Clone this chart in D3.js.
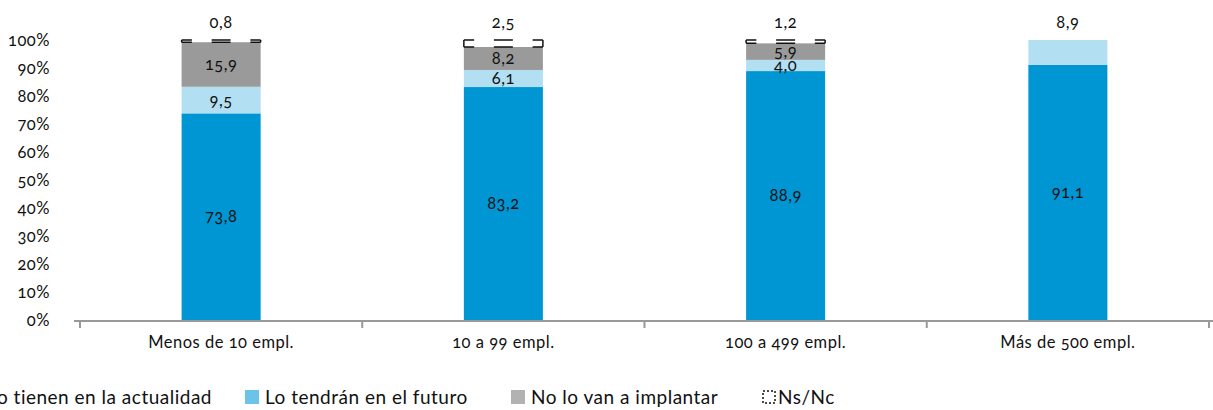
<!DOCTYPE html>
<html>
<head>
<meta charset="utf-8">
<script src="https://cdn.jsdelivr.net/npm/d3@7"></script>
<style>
  html, body { margin: 0; padding: 0; background: #fff; }
  svg text { font-family: Lato, "Open Sans", sans-serif; font-variant-numeric: oldstyle-nums; fill: #111; letter-spacing: 0.5px; }
</style>
</head>
<body>
<div id="chart"></div>
<script>
// datos del gráfico
const categories = ["Menos de 10 empl.", "10 a 99 empl.", "100 a 499 empl.", "Más de 500 empl."];
const seriesNames = ["Lo tienen en la actualidad", "Lo tendrán en el futuro", "No lo van a implantar", "Ns/Nc"];
const actualidad = [73.8, 83.2, 88.9, 91.1];
const futuro = [9.5, 6.1, 4.0, 8.9];
const noImplantar = [15.9, 8.2, 5.9, 0];
const nsnc = [0.8, 2.5, 1.2, 0];
const yTicks = [0, 10, 20, 30, 40, 50, 60, 70, 80, 90, 100];

drawChart();

function drawChart() {
  const width = 1213, height = 410;
  const svg = d3.select("#chart").append("svg")
    .attr("width", width)
    .attr("height", height);

  const barColors = ["#0096d4", "#b2dff2", "#9a9a9a", "none"];
  const legendColors = ["#0096d4", "#6cc3e8", "#b2b2b2", "none"];

  const rows = categories.map((c, i) => ({
    cat: c, s0: actualidad[i], s1: futuro[i], s2: noImplantar[i], s3: nsnc[i]
  }));
  const keys = ["s0", "s1", "s2", "s3"];
  const stacked = d3.stack().keys(keys)(rows);

  const x = d3.scaleBand().domain(categories).range([80, 1209]).paddingInner(0.72).paddingOuter(0.36);
  const xTicks = d3.scaleBand().domain(categories).range([80, 1209]);
  const y = d3.scaleLinear().domain([0, 100]).range([320, 40]);

  const fmt = d3.formatLocale({ decimal: ",", thousands: ".", grouping: [3], currency: ["", "€"] }).format(".1f");

  // eje Y (solo etiquetas)
  svg.append("g").selectAll("text")
    .data(yTicks)
    .join("text")
    .attr("x", 50)
    .attr("y", d => y(d))
    .attr("dy", "0.35em")
    .attr("text-anchor", "end")
    .style("font-size", "16.5px")
    .text(d => d + "%");

  // barras
  stacked.forEach((layer, k) => {
    const g = svg.append("g");
    if (k < 3) {
      g.selectAll("rect")
        .data(layer.filter(d => d[1] > d[0]))
        .join("rect")
        .attr("x", d => x(d.data.cat))
        .attr("width", x.bandwidth())
        .attr("y", d => y(d[1]))
        .attr("height", d => y(d[0]) - y(d[1]))
        .attr("fill", barColors[k]);
    } else {
      // Ns/Nc: caja discontinua
      layer.filter(d => d[1] > d[0]).forEach(d => {
        const x0 = x(d.data.cat), w = x.bandwidth();
        const t = y(d[1]), b = y(d[0]);
        const dash = [w * 0.13, w * 0.25, w * 0.24, w * 0.25, w * 0.13].join(",");
        [t, b].forEach(yy => {
          g.append("line")
            .attr("x1", x0).attr("x2", x0 + w)
            .attr("y1", yy).attr("y2", yy)
            .attr("stroke", "#111").attr("stroke-width", 1.5)
            .attr("stroke-dasharray", dash);
        });
        [x0, x0 + w].forEach(xx => {
          g.append("line")
            .attr("x1", xx).attr("x2", xx)
            .attr("y1", t).attr("y2", b)
            .attr("stroke", "#111").attr("stroke-width", 1.5);
        });
      });
    }
  });

  // etiquetas de valores
  rows.forEach((r, i) => {
    let topKey = null;
    keys.forEach(k => { if (r[k] > 0) topKey = k; });
    stacked.forEach((layer, k) => {
      const d = layer[i];
      if (d[1] <= d[0]) return;
      const isTop = keys[k] === topKey;
      svg.append("text")
        .attr("x", x(r.cat) + x.bandwidth() / 2)
        .attr("y", isTop ? y(100) - 18 : (y(d[0]) + y(d[1])) / 2)
        .attr("dy", "0.35em")
        .attr("text-anchor", "middle")
        .style("font-size", "16.5px")
        .text(fmt(d[1] - d[0]));
    });
  });

  // eje X
  const axis = svg.append("g");
  axis.append("line")
    .attr("x1", 74).attr("x2", width)
    .attr("y1", 321).attr("y2", 321)
    .attr("stroke", "#999").attr("stroke-width", 2);
  const tickPos = categories.map(c => xTicks(c)).concat([xTicks.range()[1]]);
  axis.selectAll(".tick")
    .data(tickPos)
    .join("line")
    .attr("x1", d => d).attr("x2", d => d)
    .attr("y1", 321).attr("y2", 328)
    .attr("stroke", "#999").attr("stroke-width", 2);
  axis.selectAll("text")
    .data(categories)
    .join("text")
    .attr("x", d => x(d) + x.bandwidth() / 2)
    .attr("y", 342)
    .attr("dy", "0.35em")
    .attr("text-anchor", "middle")
    .style("font-size", "16.5px")
    .text(d => d);

  // leyenda
  const legendX = [null, 245, 511, 762];
  const legend = svg.append("g");
  seriesNames.forEach((name, i) => {
    const txt = legend.append("text")
      .attr("y", 397)
      .attr("dy", "0.35em")
      .style("font-size", "19px")
      .text(name);
    let lx = legendX[i];
    if (lx === null) {
      // el primer elemento queda cortado por el borde izquierdo
      lx = 212 - txt.node().getComputedTextLength() - 20;
    }
    txt.attr("x", lx + (i === 3 ? 16 : 20));
    if (i < 3) {
      legend.append("rect")
        .attr("x", lx).attr("y", 390)
        .attr("width", 14).attr("height", 14)
        .attr("fill", legendColors[i]);
    } else {
      legend.append("rect")
        .attr("x", lx + 1).attr("y", 391)
        .attr("width", 12).attr("height", 12)
        .attr("fill", "none")
        .attr("stroke", "#111").attr("stroke-width", 1.5)
        .attr("stroke-dasharray", "2,2");
    }
  });
}
</script>
</body>
</html>
